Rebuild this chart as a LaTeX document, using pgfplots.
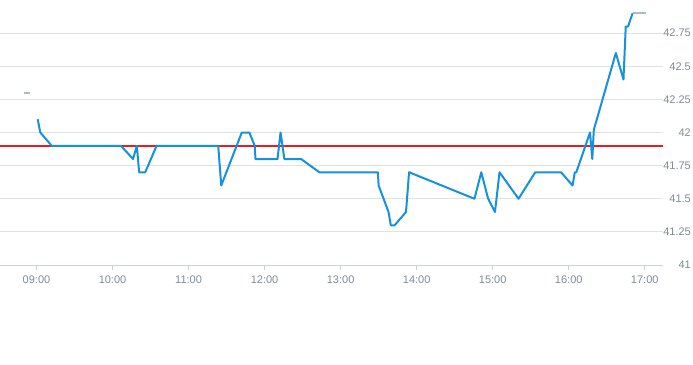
\documentclass[border=0pt]{standalone}
\usepackage{pgfplots}
\pgfplotsset{compat=1.18}
\usepackage{fontspec}
\setmainfont{Liberation Sans}
\definecolor{lineblue}{RGB}{22,145,222}
\definecolor{stubgray}{RGB}{172,186,202}
\definecolor{gridc}{RGB}{226,226,226}
\definecolor{axisc}{RGB}{204,210,220}
\definecolor{labc}{RGB}{128,138,152}
\definecolor{refred}{RGB}{230,30,30}
\begin{document}
\begin{tikzpicture}
\useasboundingbox (0,-100bp) rectangle (693bp,265bp);
\begin{axis}[
  at={(0,0)}, anchor=south west,
  scale only axis, width=663bp, height=265bp,
  xmin=8.52, xmax=17.24, ymin=41, ymax=43,
  axis x line*=bottom, axis y line*=right,
  y axis line style={draw=none},
  x axis line style={draw=axisc, line width=0.8bp},
  xtick={9,10,11,12,13,14,15,16,17},
  xticklabels={09:00,10:00,11:00,12:00,13:00,14:00,15:00,16:00,17:00},
  xtick style={draw=axisc, line width=0.8bp},
  x tick label style={yshift=-2bp},
  tick align=outside, major tick length=5bp,
  ytick={41,41.25,41.5,41.75,42,42.25,42.5,42.75},
  yticklabels={41,41.25,41.5,41.75,42,42.25,42.5,42.75},
  ytick style={draw=none},
  ymajorgrids, major grid style={draw=gridc, line width=0.8bp},
  yticklabel style={anchor=east, xshift=23bp, inner sep=0pt},
  tick label style={font=\fontsize{11bp}{13bp}\selectfont, text=labc},
  /pgf/number format/assume math mode=true,
  clip=false,
]
\addplot[refred, line width=1.6bp] coordinates {(8.52,41.9) (17.24,41.9)};
\addplot[stubgray, line width=1.8bp] coordinates {(8.84,42.3) (8.91,42.3)};
\addplot[lineblue, line width=2bp, line join=round] coordinates {
(9.016,42.1) (9.05,42.0) (9.2,41.9) (10.11,41.9) (10.27,41.8) (10.32,41.9)
(10.35,41.7) (10.43,41.7) (10.58,41.9) (11.39,41.9) (11.43,41.6) (11.7,42.0)
(11.8,42.0) (11.87,41.9) (11.88,41.8) (12.17,41.8) (12.21,42.0) (12.26,41.8)
(12.48,41.8) (12.72,41.7) (13.49,41.7) (13.5,41.6) (13.63,41.4) (13.66,41.3)
(13.71,41.3) (13.86,41.4) (13.9,41.7) (14.76,41.5) (14.85,41.7) (14.94,41.5)
(15.03,41.4) (15.09,41.7) (15.34,41.5) (15.56,41.7) (15.9,41.7) (16.05,41.6)
(16.08,41.7) (16.1,41.7) (16.28,42.0) (16.31,41.8) (16.33,42.02) (16.62,42.6)
(16.72,42.4) (16.75,42.8) (16.78,42.8) (16.84,42.9)
};
\addplot[stubgray, line width=1.8bp] coordinates {(16.84,42.9) (17.01,42.9)};
\end{axis}
\end{tikzpicture}
\end{document}
